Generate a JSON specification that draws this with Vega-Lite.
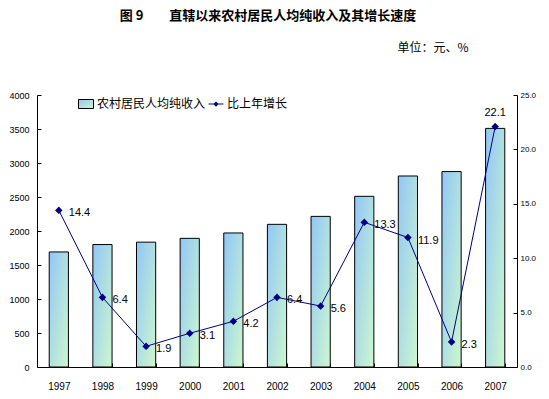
{
  "$schema": "https://vega.github.io/schema/vega-lite/v6.json",
  "width": 480,
  "height": 272,
  "autosize": {"type": "none"},
  "padding": {"left": 37, "top": 95, "right": 32, "bottom": 32},
  "background": "white",
  "title": {
    "text": "图 9\u3000\u3000直辖以来农村居民人均纯收入及其增长速度",
    "anchor": "middle",
    "frame": "group",
    "offset": 18,
    "dx": -9,
    "font": "Noto Sans CJK SC",
    "fontSize": 13,
    "fontWeight": "bold",
    "color": "#000000"
  },
  "config": {
    "view": {"stroke": null},
    "axis": {
      "grid": false,
      "domainColor": "#000000",
      "tickColor": "#000000",
      "labelColor": "#000000",
      "labelFont": "Liberation Sans",
      "domainWidth": 1,
      "tickWidth": 1
    },
    "legend": {
      "orient": "none",
      "legendY": 1,
      "direction": "horizontal",
      "labelFont": "Noto Sans CJK SC",
      "labelFontSize": 12,
      "labelColor": "#000000",
      "symbolSize": 225,
      "symbolStrokeWidth": 1,
      "labelOffset": 3,
      "symbolOpacity": 1
    }
  },
  "data": {
    "values": [
      {"year": "1997", "income": 1692, "growth": 14.4},
      {"year": "1998", "income": 1801, "growth": 6.4},
      {"year": "1999", "income": 1836, "growth": 1.9},
      {"year": "2000", "income": 1892, "growth": 3.1},
      {"year": "2001", "income": 1971, "growth": 4.2},
      {"year": "2002", "income": 2098, "growth": 6.4},
      {"year": "2003", "income": 2215, "growth": 5.6},
      {"year": "2004", "income": 2510, "growth": 13.3},
      {"year": "2005", "income": 2809, "growth": 11.9},
      {"year": "2006", "income": 2874, "growth": 2.3},
      {"year": "2007", "income": 3509, "growth": 22.1}
    ]
  },
  "encoding": {
    "x": {
      "field": "year",
      "type": "ordinal",
      "scale": {"paddingInner": 0.56, "paddingOuter": 0.28},
      "axis": {
        "title": null,
        "labelAngle": 0,
        "labelFontSize": 10,
        "tickBand": "extent",
        "tickSize": -4,
        "labelPadding": 18
      }
    }
  },
  "layer": [
    {
      "mark": {
        "type": "bar",
        "fill": {
          "gradient": "linear",
          "x1": 0, "y1": 0, "x2": 1, "y2": 1,
          "stops": [
            {"offset": 0, "color": "#92c6f6"},
            {"offset": 1, "color": "#cdf8cd"}
          ]
        },
        "strokeWidth": 1
      },
      "encoding": {
        "y": {
          "field": "income",
          "type": "quantitative",
          "scale": {"domain": [0, 4000]},
          "axis": {
            "values": [0, 500, 1000, 1500, 2000, 2500, 3000, 3500, 4000],
            "format": "d",
            "labelFontSize": 9,
            "tickSize": -4,
            "labelPadding": 12,
            "title": "单位：元、%",
            "titleAngle": 0,
            "titleX": 360,
            "titleY": -48,
            "titleAlign": "left",
            "titleBaseline": "middle",
            "titleFont": "Noto Sans CJK SC",
            "titleFontSize": 12,
            "titleFontWeight": "normal",
            "titleColor": "#000000"
          }
        },
        "stroke": {
          "datum": "农村居民人均纯收入",
          "type": "nominal",
          "scale": {"domain": ["农村居民人均纯收入"], "range": ["#000000"]},
          "legend": {
            "title": null,
            "legendX": 41,
            "symbolType": "M-1,-0.6L1,-0.6L1,0.6L-1,0.6Z"
          }
        }
      }
    },
    {
      "encoding": {
        "y": {
          "field": "growth",
          "type": "quantitative",
          "scale": {"domain": [0, 25]},
          "axis": {
            "orient": "right",
            "values": [0, 5, 10, 15, 20, 25],
            "format": ".1f",
            "labelFontSize": 8,
            "tickSize": -4,
            "labelPadding": 7,
            "title": null
          }
        }
      },
      "layer": [
        {
          "mark": {"type": "line", "strokeWidth": 1, "stroke": "#000080"}
        },
        {
          "mark": {"type": "point", "shape": "diamond", "filled": true, "size": 22, "fill": "#000080", "stroke": "#000080", "opacity": 1},
          "encoding": {
            "strokeDash": {
              "datum": "比上年增长",
              "type": "nominal",
              "scale": {"domain": ["比上年增长"], "range": [[1, 0]]},
              "legend": {
                "title": null,
                "legendX": 171,
                "symbolType": "M-1,-0.07L1,-0.07L1,0.07L-1,0.07ZM0,-0.35L0.35,0L0,0.35L-0.35,0Z",
                "symbolStrokeColor": "#000080",
                "symbolFillColor": "#000080"
              }
            }
          }
        },
        {
          "transform": [{"filter": "datum.year !== '2007'"}],
          "mark": {"type": "text", "align": "left", "baseline": "middle", "dx": 10, "dy": 3, "font": "Liberation Sans", "fontSize": 11, "color": "#000000"},
          "encoding": {
            "text": {"field": "growth", "type": "quantitative", "format": ".1f"}
          }
        },
        {
          "transform": [{"filter": "datum.year === '2007'"}],
          "mark": {"type": "text", "align": "center", "baseline": "middle", "dx": 0, "dy": -14, "font": "Liberation Sans", "fontSize": 11, "color": "#000000"},
          "encoding": {
            "text": {"field": "growth", "type": "quantitative", "format": ".1f"}
          }
        }
      ]
    }
  ],
  "resolve": {"scale": {"y": "independent"}}
}
